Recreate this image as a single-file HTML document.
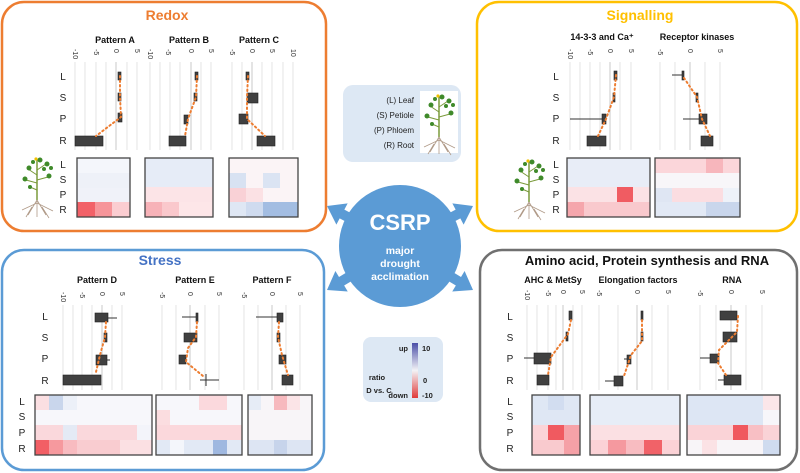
<!DOCTYPE html>
<html><head><meta charset="utf-8"><style>
html,body{margin:0;padding:0;background:#fff;}
svg{display:block;font-family:"Liberation Sans",sans-serif;}
.t{font-weight:bold;font-size:9px;text-anchor:middle;fill:#111;}
.ax{font-size:7px;fill:#333;}
.rl{font-size:10px;fill:#222;text-anchor:middle;}
.g{stroke:#ddd;stroke-width:0.8;}
.b{fill:#404040;stroke:#222;stroke-width:0.6;}
.w{stroke:#333;stroke-width:1;}
.d{stroke:#ed7d31;stroke-width:2;stroke-dasharray:1.5 3;fill:none;stroke-linecap:round;}
.hm{stroke:#444;stroke-width:1.3;fill:none;}
</style></head><body>
<svg width="800" height="473" viewBox="0 0 800 473">
<defs>
<g id="plant">
<path d="M17 5 L17 45" stroke="#7a9a3a" stroke-width="1.5"/>
<path d="M17 20 L8 14 M17 15 L26 9 M17 28 L6 25 M17 25 L28 22 M17 35 L10 32" stroke="#7a9a3a" stroke-width="1"/>
<g fill="#3f8a2a"><circle cx="9" cy="13" r="2.5"/><circle cx="5" cy="24" r="2.5"/><circle cx="27" cy="9" r="2.5"/><circle cx="29" cy="21" r="2.5"/><circle cx="20" cy="5" r="2.5"/><circle cx="13" cy="7" r="2"/><circle cx="24" cy="14" r="2"/><circle cx="10" cy="32" r="2"/><circle cx="31" cy="13" r="2"/></g>
<circle cx="16" cy="4" r="1.6" fill="#f0c000"/>
<path d="M17 45 L8 60 M17 45 L26 60 M17 45 L17 62 M17 48 L2 55 M17 48 L33 56 M12 52 L6 62 M22 52 L29 63" stroke="#b09a88" stroke-width="0.8" fill="none"/>
</g>
<polygon id="arr" points="0,0 -17,-12 -17,-5 -45,-5 -45,5 -17,5 -17,12"/>
</defs>

<!-- frames -->
<rect x="2" y="2" width="324" height="229" rx="22" fill="#fff" stroke="#ed7d31" stroke-width="2.5"/>
<rect x="477" y="2" width="320" height="229" rx="22" fill="#fff" stroke="#ffc000" stroke-width="2.5"/>
<rect x="2" y="250" width="322" height="220" rx="22" fill="#fff" stroke="#5b9bd5" stroke-width="2.5"/>
<rect x="480" y="250" width="317" height="220" rx="22" fill="#fff" stroke="#707070" stroke-width="2.5"/>

<!-- center -->
<g fill="#5b9bd5">
<use href="#arr" transform="translate(327,206) rotate(208)"/>
<use href="#arr" transform="translate(473,206) rotate(-28)"/>
<use href="#arr" transform="translate(327,290) rotate(149)"/>
<use href="#arr" transform="translate(473,290) rotate(31)"/>
<circle cx="400" cy="246" r="61"/>
</g>
<text x="400" y="230" text-anchor="middle" font-size="22" font-weight="bold" fill="#fff">CSRP</text>
<text x="400" y="254" text-anchor="middle" font-size="10.5" font-weight="bold" fill="#fff">major</text>
<text x="400" y="267" text-anchor="middle" font-size="10.5" font-weight="bold" fill="#fff">drought</text>
<text x="400" y="280" text-anchor="middle" font-size="10.5" font-weight="bold" fill="#fff">acclimation</text>

<!-- legend 1 -->
<rect x="343" y="85" width="118" height="77" rx="10" fill="#dde8f4"/>
<rect x="420" y="91" width="38" height="62" fill="#fff"/>
<use href="#plant" x="422" y="92"/>
<g font-size="8" fill="#222" text-anchor="end">
<text x="414" y="103">(L) Leaf</text><text x="414" y="118">(S) Petiole</text>
<text x="414" y="133">(P) Phloem</text><text x="414" y="148">(R) Root</text></g>

<!-- legend 2 -->
<linearGradient id="cb" x1="0" y1="0" x2="0" y2="1"><stop offset="0" stop-color="#4b4fa8"/><stop offset="0.5" stop-color="#f3f3f6"/><stop offset="1" stop-color="#e03a3a"/></linearGradient>
<rect x="363" y="337" width="80" height="65" rx="8" fill="#dde8f4"/>
<rect x="412" y="343" width="6" height="55" fill="url(#cb)"/>
<g font-size="7.5" font-weight="bold" fill="#222">
<text x="408" y="351" text-anchor="end">up</text><text x="422" y="351">10</text>
<text x="423" y="383">0</text><text x="422" y="398">-10</text>
<text x="408" y="398" text-anchor="end">down</text>
<text x="377" y="380" text-anchor="middle">ratio</text><text x="379" y="393" text-anchor="middle">D vs. C</text></g>

<!-- REDOX -->
<text x="167" y="20" text-anchor="middle" font-size="14" font-weight="bold" fill="#ed7d31">Redox</text>
<text class="t" x="115" y="43">Pattern A</text><text class="t" x="189" y="43">Pattern B</text><text class="t" x="259" y="43">Pattern C</text>
<g class="g">
<line x1="75" y1="62" x2="75" y2="150"/><line x1="85" y1="62" x2="85" y2="150"/><line x1="96" y1="62" x2="96" y2="150"/><line x1="106" y1="62" x2="106" y2="150"/><line x1="116" y1="62" x2="116" y2="150" stroke="#bbb"/><line x1="127" y1="62" x2="127" y2="150"/><line x1="137" y1="62" x2="137" y2="150"/>
<line x1="150" y1="62" x2="150" y2="150"/><line x1="160" y1="62" x2="160" y2="150"/><line x1="170" y1="62" x2="170" y2="150"/><line x1="180" y1="62" x2="180" y2="150"/><line x1="191" y1="62" x2="191" y2="150" stroke="#bbb"/><line x1="201" y1="62" x2="201" y2="150"/><line x1="211" y1="62" x2="211" y2="150"/>
<line x1="232" y1="62" x2="232" y2="150"/><line x1="242" y1="62" x2="242" y2="150"/><line x1="252" y1="62" x2="252" y2="150" stroke="#bbb"/><line x1="262" y1="62" x2="262" y2="150"/><line x1="272" y1="62" x2="272" y2="150"/><line x1="283" y1="62" x2="283" y2="150"/><line x1="293" y1="62" x2="293" y2="150"/>
</g>
<g class="ax">
<text transform="translate(73,49) rotate(90)">-10</text><text transform="translate(94,49) rotate(90)">-5</text><text transform="translate(114,49) rotate(90)">0</text><text transform="translate(135,49) rotate(90)">5</text>
<text transform="translate(148,49) rotate(90)">-10</text><text transform="translate(166,49) rotate(90)">-5</text><text transform="translate(189,49) rotate(90)">0</text><text transform="translate(209,49) rotate(90)">5</text>
<text transform="translate(230,49) rotate(90)">-5</text><text transform="translate(250,49) rotate(90)">0</text><text transform="translate(270,49) rotate(90)">5</text><text transform="translate(291,49) rotate(90)">10</text>
</g>
<g class="rl"><text x="63" y="80">L</text><text x="63" y="101">S</text><text x="63" y="122">P</text><text x="63" y="144">R</text></g>
<rect class="b" x="118" y="72" width="3" height="8"/><rect class="b" x="118" y="93" width="3" height="8"/><rect class="b" x="118" y="113" width="4" height="9"/><rect class="b" x="75" y="136" width="28" height="10"/>
<path class="d" d="M120 76 L120 97 L121 117 L96 136"/>
<rect class="b" x="195" y="72" width="3" height="8"/><rect class="b" x="194" y="93" width="3" height="8"/><rect class="b" x="184" y="115" width="4" height="9"/><rect class="b" x="169" y="136" width="17" height="10"/>
<path class="d" d="M197 76 L196 97 L188 119 L185 136"/>
<rect class="b" x="246" y="72" width="3" height="8"/><rect class="b" x="247" y="93" width="11" height="10"/><rect class="b" x="239" y="114" width="9" height="10"/><rect class="b" x="257" y="136" width="18" height="10"/>
<path class="d" d="M248 76 L247 97 L247 119 L265 136"/>
<use href="#plant" x="20" y="155"/>
<g class="rl" font-size="9"><text x="63" y="168">L</text><text x="63" y="183">S</text><text x="63" y="198">P</text><text x="63" y="213">R</text></g>
<rect x="77" y="158" width="53" height="59" fill="#f4f6fb"/>
<rect x="77" y="173" width="53" height="15" fill="#eef1f8"/>
<rect x="77" y="188" width="53" height="14" fill="#f0f2f9"/>
<rect x="77" y="202" width="18" height="15" fill="#f26168"/><rect x="95" y="202" width="17" height="15" fill="#f6959a"/><rect x="112" y="202" width="18" height="15" fill="#fbcdd1"/>
<rect class="hm" x="77" y="158" width="53" height="59"/>
<rect x="145" y="158" width="68" height="29" fill="#e6ecf7"/>
<rect x="145" y="187" width="68" height="15" fill="#fce4e7"/>
<rect x="145" y="202" width="17" height="15" fill="#f7b2b8"/><rect x="162" y="202" width="17" height="15" fill="#fac8cc"/><rect x="179" y="202" width="34" height="15" fill="#fde6e8"/>
<rect class="hm" x="145" y="158" width="68" height="59"/>
<rect x="229" y="158" width="69" height="59" fill="#fbf4f6"/>
<rect x="229" y="173" width="17" height="15" fill="#d8e2f2"/><rect x="263" y="173" width="17" height="15" fill="#dbe4f3"/>
<rect x="229" y="188" width="17" height="14" fill="#f9d1d6"/><rect x="246" y="188" width="17" height="14" fill="#fbe1e4"/>
<rect x="229" y="202" width="17" height="15" fill="#dfe7f4"/><rect x="246" y="202" width="17" height="15" fill="#cfdbef"/><rect x="263" y="202" width="35" height="15" fill="#a3bde2"/>
<rect class="hm" x="229" y="158" width="69" height="59"/>

<!-- SIGNALLING -->
<text x="640" y="20" text-anchor="middle" font-size="14" font-weight="bold" fill="#ffc000">Signalling</text>
<text class="t" x="602" y="40">14-3-3 and Ca⁺</text><text class="t" x="697" y="40">Receptor kinases</text>
<g class="g">
<line x1="570" y1="62" x2="570" y2="150"/><line x1="580" y1="62" x2="580" y2="150"/><line x1="590" y1="62" x2="590" y2="150"/><line x1="600" y1="62" x2="600" y2="150"/><line x1="610" y1="62" x2="610" y2="150" stroke="#bbb"/><line x1="620" y1="62" x2="620" y2="150"/><line x1="631" y1="62" x2="631" y2="150"/>
<line x1="660" y1="62" x2="660" y2="150"/><line x1="675" y1="62" x2="675" y2="150"/><line x1="690" y1="62" x2="690" y2="150" stroke="#bbb"/><line x1="705" y1="62" x2="705" y2="150"/><line x1="720" y1="62" x2="720" y2="150"/>
</g>
<g class="ax">
<text transform="translate(568,49) rotate(90)">-10</text><text transform="translate(588,49) rotate(90)">-5</text><text transform="translate(608,49) rotate(90)">0</text><text transform="translate(629,49) rotate(90)">5</text>
<text transform="translate(658,49) rotate(90)">-5</text><text transform="translate(688,49) rotate(90)">0</text><text transform="translate(718,49) rotate(90)">5</text>
</g>
<g class="rl"><text x="556" y="80">L</text><text x="556" y="101">S</text><text x="556" y="122">P</text><text x="556" y="144">R</text></g>
<rect class="b" x="614" y="71" width="3" height="9"/><rect class="b" x="613" y="93" width="2" height="9"/>
<line class="w" x1="570" y1="119" x2="602" y2="119"/><rect class="b" x="602" y="114" width="4" height="10"/><rect class="b" x="587" y="136" width="19" height="10"/>
<path class="d" d="M616 75 L614 97 L606 119 L598 136"/>
<line class="w" x1="672" y1="75" x2="682" y2="75"/><rect class="b" x="682" y="71" width="2" height="9"/><rect class="b" x="696" y="93" width="2" height="9"/>
<line class="w" x1="683" y1="119" x2="699" y2="119"/><rect class="b" x="699" y="114" width="8" height="10"/><rect class="b" x="701" y="136" width="12" height="10"/>
<path class="d" d="M684 78 L697 97 L702 119 L710 136"/>
<use href="#plant" x="512" y="157"/>
<g class="rl" font-size="9"><text x="556" y="168">L</text><text x="556" y="183">S</text><text x="556" y="198">P</text><text x="556" y="213">R</text></g>
<rect x="567" y="158" width="83" height="29" fill="#e8edf7"/>
<rect x="567" y="187" width="83" height="15" fill="#fbe2e5"/><rect x="617" y="187" width="16" height="15" fill="#f05c62"/>
<rect x="567" y="202" width="83" height="15" fill="#f9c9cd"/><rect x="567" y="202" width="17" height="15" fill="#f5a6ac"/>
<rect class="hm" x="567" y="158" width="83" height="59"/>
<rect x="655" y="158" width="85" height="15" fill="#fbd6da"/><rect x="706" y="158" width="17" height="15" fill="#f7b6bc"/>
<rect x="655" y="173" width="85" height="15" fill="#f8f6f9"/>
<rect x="655" y="188" width="85" height="14" fill="#fbdde1"/><rect x="655" y="188" width="17" height="14" fill="#dfe6f3"/><rect x="723" y="188" width="17" height="14" fill="#eef2f9"/>
<rect x="655" y="202" width="85" height="15" fill="#e2e9f5"/><rect x="706" y="202" width="34" height="15" fill="#c9d6ec"/>
<rect class="hm" x="655" y="158" width="85" height="59"/>

<!-- STRESS -->
<text x="160" y="265" text-anchor="middle" font-size="14" font-weight="bold" fill="#4472c4">Stress</text>
<text class="t" x="97" y="283">Pattern D</text><text class="t" x="195" y="283">Pattern E</text><text class="t" x="272" y="283">Pattern F</text>
<g class="g">
<line x1="63" y1="305" x2="63" y2="390"/><line x1="73" y1="305" x2="73" y2="390"/><line x1="82" y1="305" x2="82" y2="390"/><line x1="92" y1="305" x2="92" y2="390"/><line x1="102" y1="305" x2="102" y2="390" stroke="#bbb"/><line x1="112" y1="305" x2="112" y2="390"/><line x1="122" y1="305" x2="122" y2="390"/>
<line x1="162" y1="305" x2="162" y2="390"/><line x1="176" y1="305" x2="176" y2="390"/><line x1="190" y1="305" x2="190" y2="390" stroke="#bbb"/><line x1="205" y1="305" x2="205" y2="390"/><line x1="219" y1="305" x2="219" y2="390"/>
<line x1="244" y1="305" x2="244" y2="390"/><line x1="258" y1="305" x2="258" y2="390"/><line x1="272" y1="305" x2="272" y2="390" stroke="#bbb"/><line x1="286" y1="305" x2="286" y2="390"/><line x1="300" y1="305" x2="300" y2="390"/>
</g>
<g class="ax">
<text transform="translate(61,292) rotate(90)">-10</text><text transform="translate(80,292) rotate(90)">-5</text><text transform="translate(100,292) rotate(90)">0</text><text transform="translate(120,292) rotate(90)">5</text>
<text transform="translate(160,292) rotate(90)">-5</text><text transform="translate(188,292) rotate(90)">0</text><text transform="translate(217,292) rotate(90)">5</text>
<text transform="translate(242,292) rotate(90)">-5</text><text transform="translate(270,292) rotate(90)">0</text><text transform="translate(298,292) rotate(90)">5</text>
</g>
<g class="rl"><text x="45" y="320">L</text><text x="45" y="341">S</text><text x="45" y="362">P</text><text x="45" y="384">R</text></g>
<line class="w" x1="108" y1="318" x2="117" y2="318"/><rect class="b" x="95" y="313" width="13" height="9"/><rect class="b" x="104" y="333" width="3" height="9"/>
<line class="w" x1="107" y1="360" x2="110" y2="360"/><rect class="b" x="96" y="355" width="11" height="10"/><rect class="b" x="63" y="375" width="38" height="10"/>
<path class="d" d="M106 322 L105 337 L100 355 L96 372"/>
<line class="w" x1="182" y1="317" x2="197" y2="317"/><rect class="b" x="196" y="313" width="2" height="9"/><rect class="b" x="184" y="333" width="13" height="9"/>
<rect class="b" x="179" y="355" width="7" height="9"/><line class="w" x1="200" y1="380" x2="219" y2="380"/><line class="w" x1="206" y1="374" x2="206" y2="386"/>
<path class="d" d="M197 322 L196 337 L188 348 L186 362 L203 376"/>
<line class="w" x1="256" y1="317" x2="277" y2="317"/><rect class="b" x="277" y="313" width="6" height="9"/><rect class="b" x="277" y="333" width="3" height="9"/>
<rect class="b" x="279" y="355" width="7" height="9"/><rect class="b" x="282" y="375" width="11" height="10"/>
<path class="d" d="M279 322 L278 337 L282 355 L288 375"/>
<g class="rl" font-size="9"><text x="22" y="405">L</text><text x="22" y="420">S</text><text x="22" y="436">P</text><text x="22" y="452">R</text></g>
<rect x="35" y="395" width="117" height="60" fill="#f7f7fb"/>
<rect x="35" y="395" width="14" height="15" fill="#fbdfe2"/><rect x="49" y="395" width="14" height="15" fill="#c9d6ec"/><rect x="63" y="395" width="14" height="15" fill="#ecf0f8"/>
<rect x="35" y="425" width="117" height="15" fill="#fad8dc"/><rect x="63" y="425" width="14" height="15" fill="#e4eaf5"/><rect x="137" y="425" width="15" height="15" fill="#f3f4fa"/>
<rect x="35" y="440" width="117" height="15" fill="#f9ccd0"/><rect x="35" y="440" width="14" height="15" fill="#f25f65"/><rect x="49" y="440" width="14" height="15" fill="#f6999e"/><rect x="63" y="440" width="14" height="15" fill="#f8bbc0"/><rect x="120" y="440" width="32" height="15" fill="#fbe0e3"/>
<rect class="hm" x="35" y="395" width="117" height="60"/>
<rect x="156" y="395" width="86" height="60" fill="#f7f7fb"/>
<rect x="199" y="395" width="28" height="15" fill="#fbd9dd"/>
<rect x="156" y="410" width="14" height="15" fill="#fbdde0"/>
<rect x="156" y="425" width="86" height="15" fill="#fbd8dc"/>
<rect x="156" y="440" width="86" height="15" fill="#e2e9f5"/><rect x="170" y="440" width="14" height="15" fill="#f4f6fb"/><rect x="213" y="440" width="14" height="15" fill="#9fb8e0"/>
<rect class="hm" x="156" y="395" width="86" height="60"/>
<rect x="248" y="395" width="64" height="60" fill="#f8f5f8"/>
<rect x="248" y="395" width="13" height="15" fill="#e6ecf6"/><rect x="274" y="395" width="13" height="15" fill="#f7b9be"/><rect x="287" y="395" width="13" height="15" fill="#fbe4e7"/>
<rect x="248" y="440" width="64" height="15" fill="#dde5f3"/><rect x="274" y="440" width="13" height="15" fill="#c7d4eb"/>
<rect class="hm" x="248" y="395" width="64" height="60"/>

<!-- AMINO -->
<text x="647" y="265" text-anchor="middle" font-size="13" font-weight="bold" fill="#111">Amino acid, Protein synthesis and RNA</text>
<text class="t" x="553" y="283" font-size="8.5">AHC &amp; MetSy</text><text class="t" x="638" y="283" font-size="8.5">Elongation factors</text><text class="t" x="732" y="283" font-size="8.5">RNA</text>
<g class="g">
<line x1="527" y1="305" x2="527" y2="390"/><line x1="537" y1="305" x2="537" y2="390"/><line x1="548" y1="305" x2="548" y2="390"/><line x1="556" y1="305" x2="556" y2="390"/><line x1="563" y1="305" x2="563" y2="390" stroke="#bbb"/><line x1="573" y1="305" x2="573" y2="390"/><line x1="582" y1="305" x2="582" y2="390"/>
<line x1="599" y1="305" x2="599" y2="390"/><line x1="618" y1="305" x2="618" y2="390"/><line x1="637" y1="305" x2="637" y2="390" stroke="#bbb"/><line x1="652" y1="305" x2="652" y2="390"/><line x1="668" y1="305" x2="668" y2="390"/>
<line x1="700" y1="305" x2="700" y2="390"/><line x1="716" y1="305" x2="716" y2="390"/><line x1="731" y1="305" x2="731" y2="390" stroke="#bbb"/><line x1="746" y1="305" x2="746" y2="390"/><line x1="762" y1="305" x2="762" y2="390"/>
</g>
<g class="ax">
<text transform="translate(525,290) rotate(90)">-10</text><text transform="translate(546,290) rotate(90)">-5</text><text transform="translate(561,290) rotate(90)">0</text><text transform="translate(580,290) rotate(90)">5</text>
<text transform="translate(597,290) rotate(90)">-5</text><text transform="translate(635,290) rotate(90)">0</text><text transform="translate(666,290) rotate(90)">5</text>
<text transform="translate(698,290) rotate(90)">-5</text><text transform="translate(729,290) rotate(90)">0</text><text transform="translate(760,290) rotate(90)">5</text>
</g>
<g class="rl"><text x="510" y="320">L</text><text x="510" y="341">S</text><text x="510" y="362">P</text><text x="510" y="384">R</text></g>
<rect class="b" x="569" y="311" width="3" height="9"/><rect class="b" x="566" y="332" width="2" height="9"/>
<line class="w" x1="524" y1="358" x2="534" y2="358"/><rect class="b" x="534" y="353" width="17" height="11"/><rect class="b" x="537" y="375" width="12" height="10"/>
<path class="d" d="M571 320 L568 334 L551 357 L548 375"/>
<rect class="b" x="641" y="311" width="2" height="9"/><rect class="b" x="641" y="332" width="2" height="9"/>
<line class="w" x1="624" y1="359" x2="627" y2="359"/><rect class="b" x="627" y="355" width="4" height="9"/>
<line class="w" x1="605" y1="381" x2="614" y2="381"/><rect class="b" x="614" y="376" width="9" height="10"/>
<path class="d" d="M642 320 L642 341 L631 355 L624 376"/>
<rect class="b" x="720" y="311" width="17" height="9"/><rect class="b" x="723" y="332" width="14" height="10"/>
<line class="w" x1="700" y1="358" x2="710" y2="358"/><rect class="b" x="710" y="354" width="9" height="9"/>
<line class="w" x1="718" y1="380" x2="724" y2="380"/><rect class="b" x="724" y="375" width="17" height="10"/>
<path class="d" d="M738 316 L737 332 L719 350 L718 363 L726 375"/>
<g class="rl" font-size="9"><text x="510" y="405">L</text><text x="510" y="420">S</text><text x="510" y="436">P</text><text x="510" y="452">R</text></g>
<rect x="532" y="395" width="48" height="30" fill="#dfe7f4"/><rect x="548" y="395" width="16" height="15" fill="#d2ddf0"/>
<rect x="532" y="425" width="48" height="15" fill="#fbd4d8"/><rect x="548" y="425" width="16" height="15" fill="#f05a60"/><rect x="564" y="425" width="16" height="15" fill="#f6a2a8"/>
<rect x="532" y="440" width="48" height="15" fill="#f9cace"/><rect x="564" y="440" width="16" height="15" fill="#f5a0a6"/>
<rect class="hm" x="532" y="395" width="48" height="60"/>
<rect x="590" y="395" width="90" height="30" fill="#e7edf7"/>
<rect x="590" y="425" width="90" height="15" fill="#fbe0e3"/>
<rect x="590" y="440" width="90" height="15" fill="#fbd2d6"/><rect x="608" y="440" width="18" height="15" fill="#f5999f"/><rect x="626" y="440" width="18" height="15" fill="#f8bcc1"/><rect x="644" y="440" width="18" height="15" fill="#f16268"/>
<rect class="hm" x="590" y="395" width="90" height="60"/>
<rect x="687" y="395" width="93" height="30" fill="#dde6f4"/><rect x="763" y="395" width="17" height="15" fill="#fbe6e9"/><rect x="763" y="410" width="17" height="15" fill="#f7f6fa"/>
<rect x="687" y="425" width="93" height="15" fill="#fad3d7"/><rect x="733" y="425" width="15" height="15" fill="#f0585e"/><rect x="748" y="425" width="15" height="15" fill="#f8bfc4"/>
<rect x="687" y="440" width="93" height="15" fill="#f8f5f8"/><rect x="702" y="440" width="15" height="15" fill="#fbe2e5"/><rect x="763" y="440" width="17" height="15" fill="#cfdbef"/>
<rect class="hm" x="687" y="395" width="93" height="60"/>
</svg>
</body></html>
